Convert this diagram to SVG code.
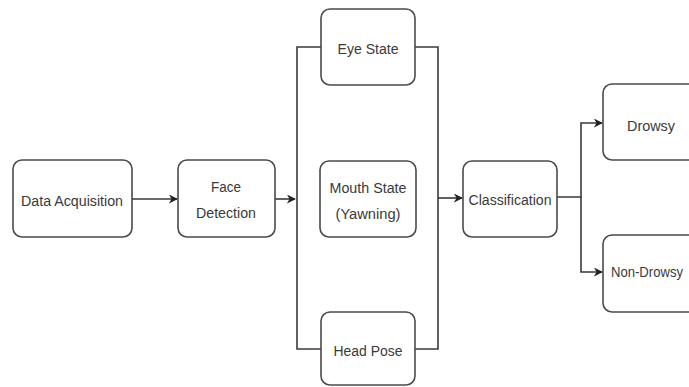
<svg xmlns="http://www.w3.org/2000/svg" width="689" height="387" viewBox="0 0 689 387">
<defs>
<marker id="arr" viewBox="0 0 10 10" refX="9" refY="5" markerWidth="9" markerHeight="9" markerUnits="userSpaceOnUse" orient="auto">
<path d="M0,0 L10,5 L0,10 L3,5 Z" fill="#222"/>
</marker>
<style>
.box{fill:#fff;stroke:#4a4a4a;stroke-width:1.6}
.t{font-family:"Liberation Sans",Arial,sans-serif;font-size:15.5px;fill:#3a3a3a;text-anchor:middle;dominant-baseline:central}
.c{fill:none;stroke:#3a3a3a;stroke-width:1.6}
</style>
</defs>
<rect width="689" height="387" fill="#fff"/>
<g id="connectors">
<path class="c" d="M132,199 H177" marker-end="url(#arr)"/>
<path class="c" d="M275,199 H295" marker-end="url(#arr)"/>
<path class="c" d="M321,47 H297 V349 H321"/>
<path class="c" d="M415,47 H438 V349 H415"/>
<path class="c" d="M438,198 H462" marker-end="url(#arr)"/>
<path class="c" d="M557,197 H581 V123 H602" marker-end="url(#arr)"/>
<path class="c" d="M581,197 V272 H602" marker-end="url(#arr)"/>
</g>
<g id="data-acquisition">
<rect class="box" x="13" y="160" width="119" height="77" rx="9"/>
<text class="t" x="72" y="200" textLength="102" lengthAdjust="spacingAndGlyphs">Data Acquisition</text>
</g>
<g id="face-detection">
<rect class="box" x="178" y="160" width="97" height="77" rx="9"/>
<text class="t" x="226" y="186" textLength="30" lengthAdjust="spacingAndGlyphs">Face</text>
<text class="t" x="226" y="212" textLength="60" lengthAdjust="spacingAndGlyphs">Detection</text>
</g>
<g id="eye-state">
<rect class="box" x="321" y="9" width="94" height="76" rx="9"/>
<text class="t" x="368" y="48" textLength="61" lengthAdjust="spacingAndGlyphs">Eye State</text>
</g>
<g id="mouth-state">
<rect class="box" x="320" y="161" width="96" height="76" rx="9"/>
<text class="t" x="368" y="187" textLength="77" lengthAdjust="spacingAndGlyphs">Mouth State</text>
<text class="t" x="368" y="213" textLength="65" lengthAdjust="spacingAndGlyphs">(Yawning)</text>
</g>
<g id="head-pose">
<rect class="box" x="321" y="312" width="94" height="73" rx="9"/>
<text class="t" x="368" y="350" textLength="69" lengthAdjust="spacingAndGlyphs">Head Pose</text>
</g>
<g id="classification">
<rect class="box" x="463" y="161" width="94" height="76" rx="9"/>
<text class="t" x="510" y="199" textLength="83" lengthAdjust="spacingAndGlyphs">Classification</text>
</g>
<g id="drowsy">
<rect class="box" x="603" y="84" width="110" height="76" rx="9"/>
<text class="t" x="651" y="125" textLength="48" lengthAdjust="spacingAndGlyphs">Drowsy</text>
</g>
<g id="non-drowsy">
<rect class="box" x="603" y="235" width="110" height="77" rx="9"/>
<text class="t" x="647" y="272" style="font-size:14px" textLength="72" lengthAdjust="spacingAndGlyphs">Non-Drowsy</text>
</g>
</svg>
